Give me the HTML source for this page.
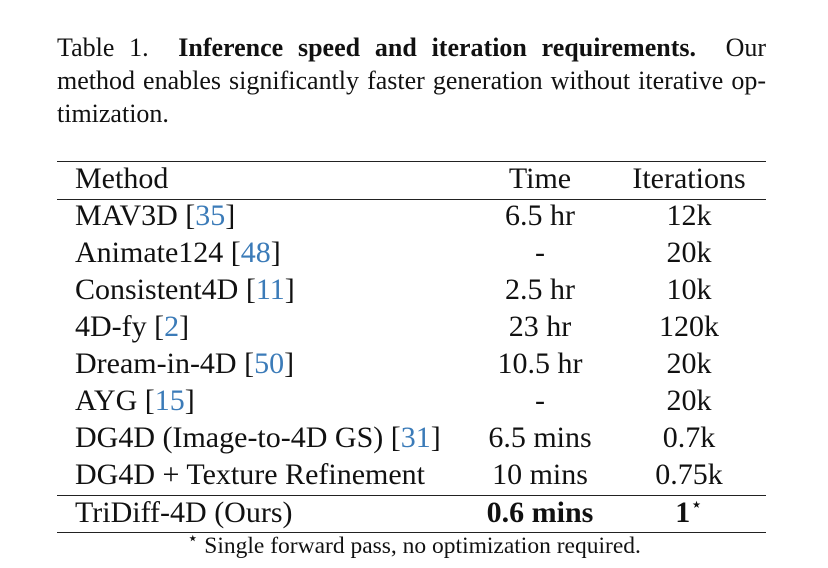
<!DOCTYPE html>
<html>
<head>
<meta charset="utf-8">
<style>
  html,body{margin:0;padding:0;background:#fff;}
  body{width:828px;height:568px;position:relative;overflow:hidden;font-family:"Liberation Serif",serif;color:#111;}
  .cap{position:absolute;left:57px;width:709px;font-size:26px;line-height:33px;}
  .cap .l{display:block;text-align:justify;text-align-last:justify;white-space:nowrap;height:33px;}
  .cap .last{text-align-last:left;}
  .rule{position:absolute;left:57px;width:709px;height:1.3px;background:#222;}
  .row{position:absolute;left:0;width:828px;height:37px;font-size:30px;line-height:37px;}
  .m{position:absolute;left:75px;white-space:nowrap;}
  .t{position:absolute;left:460px;width:160px;text-align:center;}
  .i{position:absolute;left:612px;width:154px;text-align:center;}
  .c{color:#3b7bb8;}
  .foot{position:absolute;left:0;width:828px;top:532px;text-align:center;font-size:23.5px;line-height:28px;}
</style>
</head>
<body>
<div class="cap" style="top:31px">
  <span class="l">Table 1.&nbsp; <b>Inference speed and iteration requirements.</b>&nbsp; Our</span>
  <span class="l">method enables significantly faster generation without iterative op-</span>
  <span class="l last">timization.</span>
</div>

<div class="rule" style="top:161px"></div>
<div class="row" style="top:160px">
  <span class="m">Method</span><span class="t">Time</span><span class="i">Iterations</span>
</div>
<div class="rule" style="top:199px"></div>

<div class="row" style="top:197px"><span class="m">MAV3D [<span class="c">35</span>]</span><span class="t">6.5 hr</span><span class="i">12k</span></div>
<div class="row" style="top:234px"><span class="m">Animate124 [<span class="c">48</span>]</span><span class="t">-</span><span class="i">20k</span></div>
<div class="row" style="top:271px"><span class="m">Consistent4D [<span class="c">11</span>]</span><span class="t">2.5 hr</span><span class="i">10k</span></div>
<div class="row" style="top:308px"><span class="m">4D-fy [<span class="c">2</span>]</span><span class="t">23 hr</span><span class="i">120k</span></div>
<div class="row" style="top:345px"><span class="m">Dream-in-4D [<span class="c">50</span>]</span><span class="t">10.5 hr</span><span class="i">20k</span></div>
<div class="row" style="top:382px"><span class="m">AYG [<span class="c">15</span>]</span><span class="t">-</span><span class="i">20k</span></div>
<div class="row" style="top:419px"><span class="m">DG4D (Image-to-4D GS) [<span class="c">31</span>]</span><span class="t">6.5 mins</span><span class="i">0.7k</span></div>
<div class="row" style="top:456px"><span class="m">DG4D + Texture Refinement</span><span class="t">10 mins</span><span class="i">0.75k</span></div>

<div class="rule" style="top:495px"></div>
<div class="row" style="top:494px"><span class="m">TriDiff-4D (Ours)</span><span class="t"><b>0.6 mins</b></span><span class="i"><b>1</b><sup style="font-size:20px;line-height:0">⋆</sup></span></div>
<div class="rule" style="top:532px"></div>

<div class="foot"><sup style="font-size:18px;line-height:0">⋆</sup> Single forward pass, no optimization required.</div>
</body>
</html>
